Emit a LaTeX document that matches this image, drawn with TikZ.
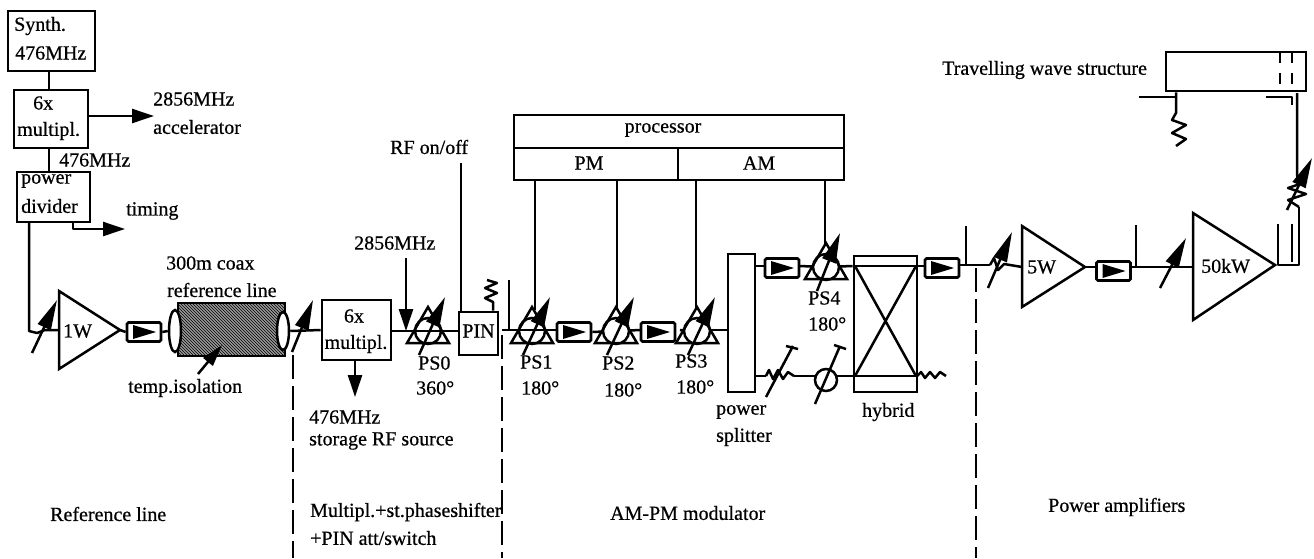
\documentclass[tikz,border=0pt]{standalone}
\usepackage{fontspec}
\setmainfont{Liberation Serif}[BoldFont={Liberation Serif},BoldFeatures={FakeBold=0.6}]
\usetikzlibrary{arrows.meta,patterns,calc,shapes.geometric}
\tikzset{
  wire/.style={line width=2.5pt,line join=round},
  boxed/.style={draw,line width=2.7pt,inner sep=0pt,fill=white},
  frame/.style={draw,line width=2.7pt,inner sep=0pt},
  lbl/.style={inner sep=0pt,anchor=west,font=\fontsize{20}{22}\selectfont\bfseries},
  clbl/.style={inner sep=0pt,font=\fontsize{20}{22}\selectfont\bfseries},
  isol/.style={draw,line width=2.7pt,rounded corners=1.5pt,minimum width=34pt,minimum height=19pt,inner sep=0pt},
  amp/.style={line width=2.5pt,line join=miter},
  big/.style={wire,-{Triangle[length=22pt,width=14pt]}},
  tune/.style={line width=2.5pt,-{Triangle[length=30pt,width=14pt]}},
  tee/.style={line width=2.5pt},
  squig/.style={line width=2.5pt,line join=round},
  divide/.style={line width=2.5pt,dash pattern=on 24pt off 7pt},
}
\newcommand{\isoboxat}[3]{%
  \node[isol] (#1) at (#2,#3) {};
  \fill ($(#1.center)+(-11,-7)$) -- ($(#1.center)+(12,0)$) -- ($(#1.center)+(-11,7)$) -- cycle;
}
\newcommand{\shifter}[4]{% name, x, base y, arrow top dx
  \coordinate (#1) at (#2,#3-12);
  \draw[line width=2.5pt,line join=miter] (#2-21,#3) -- (#2,#3-36) -- (#2+21,#3) -- cycle;
  \node[draw,circle,line width=2.5pt,minimum size=26pt,inner sep=0pt] (#1c) at (#2,#3-12) {};
  \draw[tune] (#2-9,#3+12) -- (#2+#4,#3-46);
}
\begin{document}
\begin{tikzpicture}[x=1pt,y=-1pt]
\useasboundingbox (0,0) rectangle (1314,558);
% left column
\node[boxed,minimum width=87pt,minimum height=60pt] (synth) at (51.5,41) {};
\node[lbl] at (14,26) {Synth.};
\node[lbl] at (15,53) {476MHz};
\node[boxed,minimum width=74pt,minimum height=58pt] (mult) at (51,119) {};
\node[lbl] (t6a) at (33,103) {6x};
\node[lbl] at (17,131) {multipl.};
\node[boxed,minimum width=73pt,minimum height=50pt] (div) at (53.5,197) {};
\node[lbl] at (21,181) {power};
\node[lbl] at (21,206) {divider};
\draw[wire] (synth.south -| 49,0) -- (mult.north -| 49,0);
\draw[wire] (mult.south -| 49,0) -- (div.north -| 49,0);
\node[lbl] at (59,160) {476MHz};
\coordinate (acc) at (154,116);
\draw[big] (mult.east |- acc) -- (acc);
\node[lbl] at (153,99) {2856MHz};
\node[lbl] at (153,127) {accelerator};
\node[lbl] at (126,211) {timing};
\coordinate (tim) at (125,229);
\draw[big] (73,222) -- (73,229) -- (tim);
% 1W
\coordinate (a1) at (45,330);
\coordinate (a1in) at (29,331);
\draw[wire] (29,222) -- (a1in) -- (37,333) -- (a1) -- (59,330);
\draw[tune] (32,353) -- (57,300);
\draw[amp] (59,291) -- (120,330) -- (59,369) -- cycle;
\node (amp1) at (120,330) {};
\node[lbl] at (63,331) {1W};
\isoboxat{iso1}{144}{332}
\draw[wire] (120,330) -- (iso1.west);
% coax
\path[fill=black!40] (178,303) rectangle (285,356);
\path[pattern=north west lines,pattern color=black] (178,303) rectangle (285,356);
\node[frame,minimum width=107pt,minimum height=53pt] (coax) at (231.5,329.5) {};
\node[draw,ellipse,fill=white,line width=2.5pt,minimum width=12pt,minimum height=42pt,inner sep=0pt] (e1) at (175,331) {};
\node[draw,ellipse,fill=white,line width=2.5pt,minimum width=12pt,minimum height=38pt,inner sep=0pt] (e2) at (283,331) {};
\draw[wire] (iso1.east) -- (e1.west);
\node[lbl] at (166,263) {300m coax};
\node[lbl] at (167,290) {reference line};
\node[lbl] at (128,388) {temp.isolation};
\draw[line width=2.5pt,-{Triangle[length=22pt,width=12pt]}] (198,374) -- (222,345);
% mult 2
\node[boxed,minimum width=69pt,minimum height=60pt] (m2) at (356.5,330) {};
\node[clbl] at (354,316) {6x};
\node[clbl] at (356,344) {multipl.};
\draw[wire] (e2.east) -- (m2.west);
\draw[tune] (292,352) -- (313,300);
\coordinate (down) at (355,397);
\draw[big] (355,360) -- (down);
\node[lbl] at (309,417) {476MHz};
\node[lbl] at (309,441) {storage RF source};
\node[lbl] at (354,243) {2856MHz};
\coordinate (inj) at (406,331);
\draw[big] (406,258) -- (inj);
\node[boxed,minimum width=39pt,minimum height=43pt] (pin) at (478.5,333.5) {};
\node[clbl] at (478.5,331) {PIN};
\draw[wire] (m2.east |- inj) -- (pin.west |- inj);
\shifter{ps0}{428}{343}{17}
\node[lbl] at (418,363) {PS0};
\node[lbl] at (416,388) {360°};
\node[lbl] at (390,147) {RF on/off};
\draw[wire] (461,163) -- (pin.north -| 461,0);
\draw[squig] (pin.north -| 493,0) -- (493,302) -- (485,298) -- (497,293) -- (485,288) -- (497,283) -- (487,280);
% processor
\node[frame,minimum width=330pt,minimum height=33pt] (proc) at (679,131.5) {};
\node[frame,minimum width=164pt,minimum height=32pt] (pm) at (596,164) {};
\node[frame,minimum width=166pt,minimum height=32pt] (am) at (761,164) {};
\node[clbl] at (663,130) {processor};
\node[clbl] at (589,163) {PM};
\node[clbl] at (759,163) {AM};
% main chain
\coordinate (j1) at (502,330);
\draw[wire] (509,280) -- (509,330);
\draw[wire] (j1) -- (558,330);
\shifter{ps1}{532}{343}{18}
\node[lbl] at (520,362) {PS1};
\node[lbl] at (521,388) {180°};
\draw[wire] (pm.south -| 535,0) -- (535,310);
\isoboxat{iso2}{574}{332}
\shifter{ps2}{616}{343}{18}
\draw[wire] (iso2.east) -- (ps2c);
\draw[wire] (ps2c) -- (641,330);
\node[lbl] at (602,363) {PS2};
\node[lbl] at (604,390) {180°};
\draw[wire] (pm.south -| 617,0) -- (617,310);
\isoboxat{iso3}{658}{332}
\shifter{ps3}{697}{343}{18}
\draw[wire] (680,330) -- (ps3c);
\node[lbl] at (675,361) {PS3};
\node[lbl] at (676,387) {180°};
\draw[wire] (pm.south -| 696,0) -- (696,310);
% splitter
\node[boxed,minimum width=27pt,minimum height=138pt] (split) at (741.5,323) {};
\draw[wire] (710,330) -- (split.west |- 0,330);
\node[lbl] at (716,412) {power};
\node[lbl] at (716,437) {splitter};
% upper branch
\isoboxat{iso4}{782}{268}
\draw[wire] (split.east |- 0,266) -- (766,266);
\shifter{ps4}{826}{279}{14}
\draw[wire] (799,266) -- (ps4c);
\draw[wire] (am.south -| 825,0) -- (825,245);
\node[lbl] at (808,298) {PS4};
\node[lbl] at (808,324) {180°};
% hybrid
\node[frame,minimum width=63pt,minimum height=136pt] (hyb) at (885.5,324) {};
\draw[wire] (855,266) -- (916,266) (855,376) -- (916,376);
\draw[wire] (855,266) -- (916,376) (916,266) -- (855,376);
\node[lbl] at (862,412) {hybrid};
\draw[wire] (ps4c) -- (hyb.west |- 0,266);
\isoboxat{iso5}{942}{268}
\draw[wire] (917,266) -- (925,266);
% lower branch
\coordinate (lowj) at (775,376);
\draw[wire] (755,376) -- (766,376);
\draw[squig] (766,376) -- (769,370) -- (773,379) -- (778,370) -- (783,379) -- (788,372) -- (794,376);
\node[circle,draw,line width=2.5pt,minimum size=22pt,inner sep=0pt] (pc) at (826,380) {};
\draw[wire] (794,376) -- (815,376);
\draw[wire] (837,376) -- (854,376);
\draw[tee] (766,397) -- (793,346) (786,346) -- (798,349);
\draw[tee] (815,404) -- (840,346) (834,345) -- (846,349);
\draw[squig] (917,376) -- (921,372) -- (925,378) -- (930,372) -- (935,378) -- (940,372) -- (946,376);
% to 5W
\draw[wire] (960,265) -- (990,265);
\draw[wire] (966,226) -- (966,265);
\draw[squig] (990,265) -- (994,258) -- (998,270) -- (1004,264) -- (1022,267);
\draw[tune] (988,288) -- (1012,232);
\draw[amp] (1022,226) -- (1085,267) -- (1022,307) -- cycle;
\node[lbl] at (1027,267) {5W};
\isoboxat{iso6}{1113.5}{271}
\draw[wire] (1085,267) -- (1096,267);
\draw[wire] (1131,267) -- (1193,267);
\draw[wire] (1136,225) -- (1136,267);
\draw[tune] (1160,288) -- (1186,238);
\draw[amp] (1193,213) -- (1275,265) -- (1193,320) -- cycle;
\node[lbl] at (1201,266) {50kW};
% output
\draw[wire] (1278,224) -- (1278,265) -- (1299,265) -- (1299,207);
\draw[wire] (1292,224) -- (1292,262);
\draw[squig] (1299,207) -- (1288,200) -- (1306,194) -- (1288,188) -- (1306,182) -- (1297,176) -- (1297,93);
\draw[tune] (1287,210) -- (1312,158);
% structure
\node[frame,minimum width=140pt,minimum height=39pt] (tws) at (1236,71.5) {};
\draw[line width=2.5pt,dash pattern=on 11pt off 10pt] (1280,52) -- (1280,91) (1292,52) -- (1292,91);
\node[lbl] at (942,70) {Travelling wave structure};
\draw[wire] (1139,97) -- (1176,97);
\draw[squig] (tws.south -| 1176,0) -- (1176,113) -- (1172,120) -- (1186,125) -- (1172,133) -- (1186,139) -- (1176,146);
\draw[wire] (1266,97) -- (1292,97) -- (1292,105);
% dividers
\draw[divide] (293,355) -- (293,558);
\draw[divide] (502,335) -- (502,558);
\draw[divide] (976,268) -- (976,558);
% bottom labels
\node[lbl] at (50,514) {Reference line};
\node[lbl] at (310,512) {Multipl.+st.phaseshifter};
\node[lbl] at (310,538) {+PIN att/switch};
\node[lbl] at (610,513) {AM-PM modulator};
\node[lbl] at (1048,507) {Power amplifiers};
\end{tikzpicture}
\end{document}
